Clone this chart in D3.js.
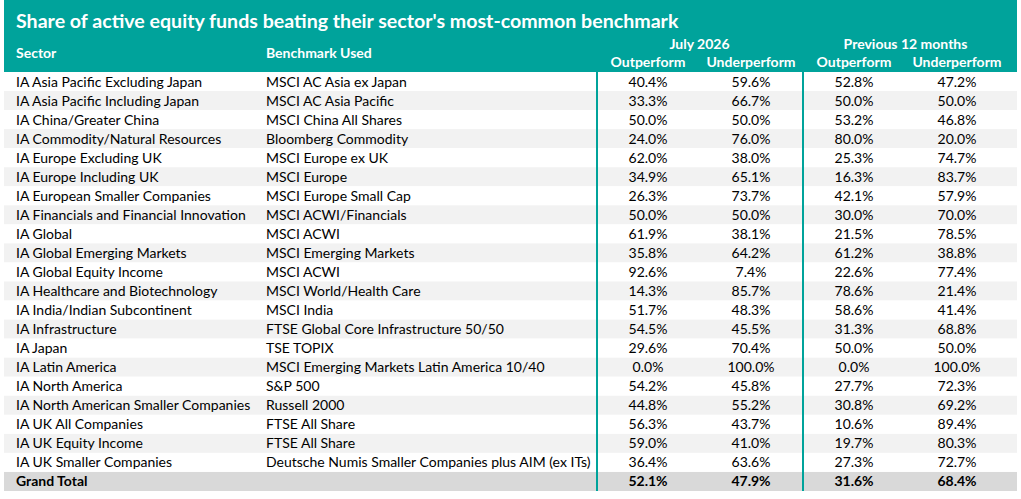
<!DOCTYPE html>
<html>
<head>
<meta charset="utf-8">
<script src="https://cdn.jsdelivr.net/npm/d3@7"></script>
<style>
  body { margin: 0; background: #fff; }
  svg text { font-family: Lato, "Open Sans", sans-serif; }
</style>
</head>
<body>
<svg id="chart" width="1021" height="499"></svg>
<script>
// table data
const sectors = [
  'IA Asia Pacific Excluding Japan', 'IA Asia Pacific Including Japan', 'IA China/Greater China',
  'IA Commodity/Natural Resources', 'IA Europe Excluding UK', 'IA Europe Including UK',
  'IA European Smaller Companies', 'IA Financials and Financial Innovation', 'IA Global',
  'IA Global Emerging Markets', 'IA Global Equity Income', 'IA Healthcare and Biotechnology',
  'IA India/Indian Subcontinent', 'IA Infrastructure', 'IA Japan', 'IA Latin America',
  'IA North America', 'IA North American Smaller Companies', 'IA UK All Companies',
  'IA UK Equity Income', 'IA UK Smaller Companies'
];
const benchmarks = [
  'MSCI AC Asia ex Japan', 'MSCI AC Asia Pacific', 'MSCI China All Shares', 'Bloomberg Commodity',
  'MSCI Europe ex UK', 'MSCI Europe', 'MSCI Europe Small Cap', 'MSCI ACWI/Financials', 'MSCI ACWI',
  'MSCI Emerging Markets', 'MSCI ACWI', 'MSCI World/Health Care', 'MSCI India',
  'FTSE Global Core Infrastructure 50/50', 'TSE TOPIX', 'MSCI Emerging Markets Latin America 10/40',
  'S&P 500', 'Russell 2000', 'FTSE All Share', 'FTSE All Share',
  'Deutsche Numis Smaller Companies plus AIM (ex ITs)'
];
const julyOut = [40.4, 33.3, 50.0, 24.0, 62.0, 34.9, 26.3, 50.0, 61.9, 35.8, 92.6, 14.3, 51.7, 54.5, 29.6, 0.0, 54.2, 44.8, 56.3, 59.0, 36.4];
const julyUnder = [59.6, 66.7, 50.0, 76.0, 38.0, 65.1, 73.7, 50.0, 38.1, 64.2, 7.4, 85.7, 48.3, 45.5, 70.4, 100.0, 45.8, 55.2, 43.7, 41.0, 63.6];
const prevOut = [52.8, 50.0, 53.2, 80.0, 25.3, 16.3, 42.1, 30.0, 21.5, 61.2, 22.6, 78.6, 58.6, 31.3, 50.0, 0.0, 27.7, 30.8, 10.6, 19.7, 27.3];
const prevUnder = [47.2, 50.0, 46.8, 20.0, 74.7, 83.7, 57.9, 70.0, 78.5, 38.8, 77.4, 21.4, 41.4, 68.8, 50.0, 100.0, 72.3, 69.2, 89.4, 80.3, 72.7];
const grandTotal = [52.1, 47.9, 31.6, 68.4];

const title = "Share of active equity funds beating their sector's most-common benchmark";
const groupLabels = ['July 2026', 'Previous 12 months'];
const subLabels = ['Outperform', 'Underperform', 'Outperform', 'Underperform'];

const teal = '#00a39b';
const svg = d3.select('#chart');
const left = 4, right = 1017;
const headTop = 0, headBottom = 72, bottom = 491;

const rows = sectors.map((s, i) => ({
  sector: s, bench: benchmarks[i],
  vals: [julyOut[i], julyUnder[i], prevOut[i], prevUnder[i]], total: false
}));
rows.push({ sector: 'Grand Total', bench: '', vals: grandTotal, total: true });

const y = d3.scaleBand().domain(d3.range(rows.length)).range([headBottom, bottom]);
const x = d3.scalePoint().domain(d3.range(4)).range([648, 957]);
const fmt = d => d.toFixed(1) + '%';

// header band
svg.append('rect').attr('x', left).attr('y', headTop).attr('width', right - left)
  .attr('height', headBottom - headTop).attr('fill', teal);

svg.append('text').attr('x', 16).attr('y', 28).text(title)
  .attr('fill', '#fff').attr('font-weight', 'bold').attr('font-size', 19.6);

svg.append('text').attr('x', 16).attr('y', 58).text('Sector')
  .attr('fill', '#fff').attr('font-weight', 'bold').attr('font-size', 14);
svg.append('text').attr('x', 266).attr('y', 58).text('Benchmark Used')
  .attr('fill', '#fff').attr('font-weight', 'bold').attr('font-size', 14);

svg.selectAll('.group').data(groupLabels).enter().append('text')
  .attr('class', 'group')
  .attr('x', (d, i) => (x(i * 2) + x(i * 2 + 1)) / 2)
  .attr('y', 49).attr('text-anchor', 'middle').text(d => d)
  .attr('fill', '#fff').attr('font-weight', 'bold').attr('font-size', 14);

svg.selectAll('.sub').data(subLabels).enter().append('text')
  .attr('class', 'sub')
  .attr('x', (d, i) => x(i)).attr('y', 67).attr('text-anchor', 'middle').text(d => d)
  .attr('fill', '#fff').attr('font-weight', 'bold').attr('font-size', 14);

// body rows
const row = svg.selectAll('.row').data(rows).enter().append('g')
  .attr('class', 'row')
  .attr('transform', (d, i) => `translate(0,${y(i)})`);

row.append('rect').attr('x', left).attr('width', right - left).attr('height', y.bandwidth())
  .attr('fill', (d, i) => d.total ? '#d9d9d9' : (i % 2 ? '#f2f2f2' : '#ffffff'));

row.append('text').attr('x', 16).attr('y', 14.5).text(d => d.sector)
  .attr('font-size', 14).attr('fill', '#000')
  .attr('font-weight', d => d.total ? 'bold' : 'normal');

row.append('text').attr('x', 266).attr('y', 14.5).text(d => d.bench)
  .attr('font-size', 14).attr('fill', '#000');

row.selectAll('.val').data(d => d.vals.map(v => ({ v, total: d.total }))).enter().append('text')
  .attr('class', 'val')
  .attr('x', (d, i) => x(i)).attr('y', 14.5).attr('text-anchor', 'middle')
  .text(d => fmt(d.v)).attr('font-size', 14).attr('fill', '#000')
  .attr('font-weight', d => d.total ? 'bold' : 'normal');

// teal separators
svg.selectAll('.sep').data([597, 803]).enter().append('line')
  .attr('x1', d => d).attr('x2', d => d).attr('y1', headBottom).attr('y2', bottom)
  .attr('stroke', teal).attr('stroke-width', 2);
</script>
</body>
</html>
